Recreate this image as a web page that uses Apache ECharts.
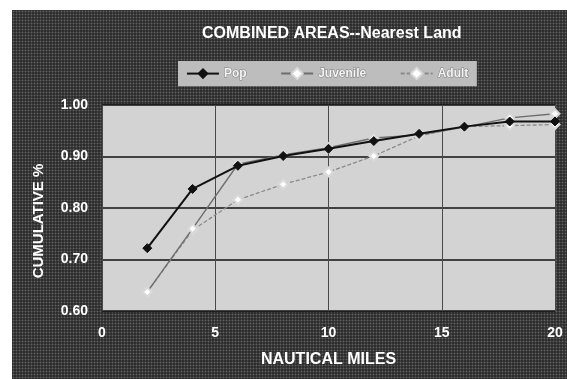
<!DOCTYPE html>
<html>
<head>
<meta charset="utf-8">
<script src="https://cdn.jsdelivr.net/npm/echarts@6/dist/echarts.min.js"></script>
<style>
  html, body { margin: 0; padding: 0; background: #ffffff; }
  #wrap { position: relative; width: 567px; height: 379px; overflow: hidden; }
  #panel {
    position: absolute; left: 12px; top: 10px; width: 555px; height: 369px;
    background-color: #2e2e2e;
    background-image: radial-gradient(circle, rgba(150,150,150,0.5) 0.8px, transparent 1.1px);
    background-size: 3px 3px;
  }
  #chart { position: absolute; left: 0; top: 0; width: 567px; height: 379px; }
</style>
</head>
<body>
<div id="wrap">
  <div id="panel"></div>
  <div id="chart"></div>
</div>
<script>
// Distance to nearest land (nautical miles) and cumulative share by age class
const miles = [2, 4, 6, 8, 10, 12, 14, 16, 18, 20];
const pop = [0.722, 0.837, 0.882, 0.901, 0.915, 0.930, 0.944, 0.958, 0.968, 0.968];
const juvenile = [0.637, 0.760, 0.885, 0.903, 0.917, 0.936, 0.942, 0.957, 0.975, 0.983];
const adult = [0.637, 0.757, 0.816, 0.846, 0.870, 0.901, 0.940, 0.958, 0.960, 0.962];
const xTicks = [0, 5, 10, 15, 20];
const yTicks = [0.6, 0.7, 0.8, 0.9, 1.0];

const pairs = (ys) => miles.map((m, i) => [m, ys[i]]);
const font = 'Arial, "Liberation Sans", Helvetica, sans-serif';

const chart = echarts.init(document.getElementById('chart'), null, { renderer: 'canvas' });
chart.setOption({
  backgroundColor: 'transparent',
  animation: false,
  title: {
    text: 'COMBINED AREAS--Nearest Land',
    left: 197, top: 21,
    textStyle: { color: '#ffffff', fontSize: 16, fontWeight: 'bold', fontFamily: font }
  },
  legend: {
    left: 178, top: 61,
    padding: [6, 8],
    itemGap: 33,
    itemWidth: 32, itemHeight: 14,
    backgroundColor: '#bdbdbd',
    textStyle: {
      color: '#f2f2f2', fontSize: 12, fontWeight: 'bold', fontFamily: font,
      textBorderColor: '#808080', textBorderWidth: 1
    },
    data: ['Pop', 'Juvenile', 'Adult']
  },
  grid: {
    left: 102, top: 105, right: 12, bottom: 68,
    show: true, backgroundColor: '#d3d3d3', borderWidth: 0
  },
  xAxis: {
    type: 'value',
    min: xTicks[0], max: xTicks[xTicks.length - 1], interval: 5,
    name: 'NAUTICAL MILES',
    nameLocation: 'middle', nameGap: 41,
    nameTextStyle: { color: '#ffffff', fontSize: 16, fontWeight: 'bold', fontFamily: font },
    axisLine: { show: false },
    axisTick: { show: false },
    axisLabel: { color: '#ffffff', fontSize: 14, fontWeight: 'bold', fontFamily: font, margin: 15 },
    splitLine: { show: true, lineStyle: { color: '#4a4a4a', width: 1 } }
  },
  yAxis: {
    type: 'value',
    min: yTicks[0], max: yTicks[yTicks.length - 1], interval: 0.1,
    name: 'CUMULATIVE %',
    nameLocation: 'middle', nameGap: 56, nameRotate: 90,
    nameTextStyle: {
      color: '#ffffff', fontSize: 15, fontWeight: 'bold', fontFamily: font,
      padding: [0, 26, 0, 0]
    },
    axisLine: { show: false },
    axisTick: { show: false },
    axisLabel: {
      color: '#ffffff', fontSize: 14, fontWeight: 'bold', fontFamily: font, margin: 14,
      formatter: (v) => v.toFixed(2)
    },
    splitLine: { show: true, lineStyle: { color: '#111111', width: 1.5 } }
  },
  series: [
    {
      name: 'Adult', type: 'line', data: pairs(adult), z: 3,
      symbol: 'emptyDiamond', symbolSize: 9,
      lineStyle: { color: '#8a8a8a', width: 1.3, type: [4, 2] },
      itemStyle: { color: '#dadada', borderColor: '#7c7c7c', borderWidth: 1.3 }
    },
    {
      name: 'Juvenile', type: 'line', data: pairs(juvenile), z: 4,
      symbol: 'emptyDiamond', symbolSize: 9,
      lineStyle: { color: '#6e6e6e', width: 1.4 },
      itemStyle: { color: '#d8d8d8', borderColor: '#666666', borderWidth: 1.3 }
    },
    {
      name: 'Pop', type: 'line', data: pairs(pop), z: 5,
      symbol: 'diamond', symbolSize: 9,
      lineStyle: { color: '#111111', width: 2 },
      itemStyle: { color: '#111111', borderColor: '#111111' }
    }
  ]
});
</script>
</body>
</html>
